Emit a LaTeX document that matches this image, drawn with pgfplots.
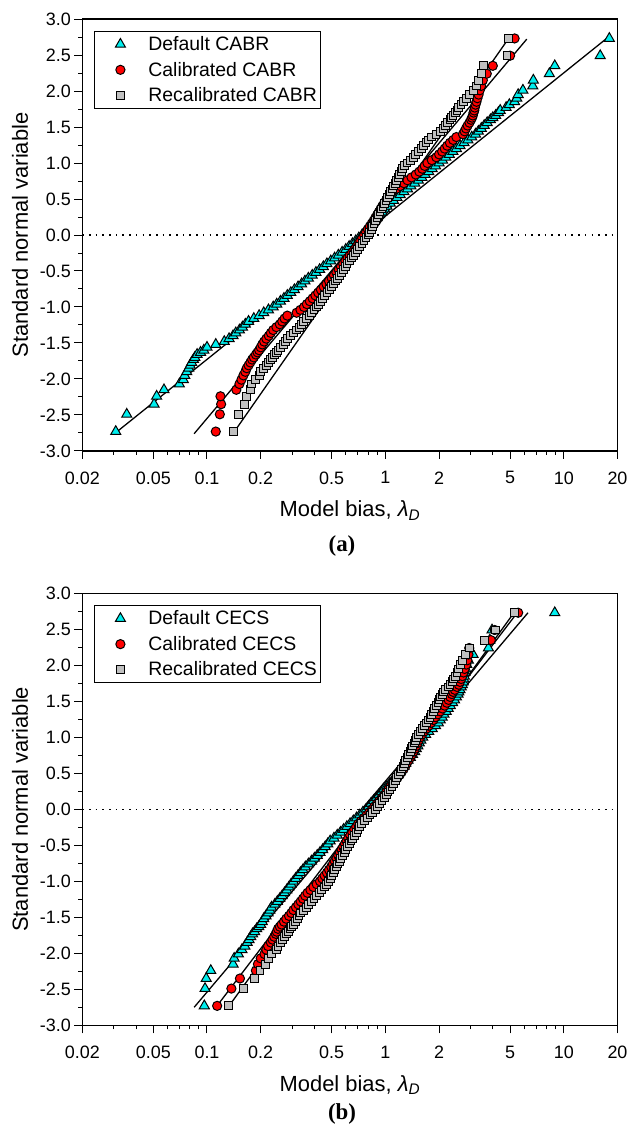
\documentclass[border=0pt]{standalone}
\usepackage{fontspec}
\setmainfont{Liberation Sans}
\newfontfamily\serifcap{Liberation Serif}
\usepackage{pgfplots}
\usepackage{pgfplotstable}
\pgfplotsset{compat=1.18}
\definecolor{cyanm}{RGB}{0,238,238}
\definecolor{redm}{RGB}{255,0,0}
\definecolor{graym}{RGB}{192,192,192}

% y = standard normal variable; d = default, c = calibrated, r = recalibrated (model bias)
\pgfplotstableread{
y d c r
-2.73 0.0308 0.112 0.1406
-2.49 0.0355 0.118 0.150
-2.35 0.0505 0.120 0.163
-2.24 0.0522 0.119 0.166
-2.15 0.0574 0.146 0.175
-2.07 0.0700 0.152 0.178
-2.01 0.0737 0.156 0.188
-1.95 0.0750 0.160 0.197
-1.90 0.0770 0.164 0.200
-1.85 0.0790 0.167 0.208
-1.81 0.0805 0.171 0.215
-1.77 0.0820 0.175 0.222
-1.73 0.0840 0.179 0.228
-1.70 0.0855 0.183 0.232
-1.66 0.0880 0.188 0.238
-1.63 0.0920 0.192 0.244
-1.60 0.0960 0.196 0.250
-1.56 0.1000 0.200 0.258
-1.52 0.1120 0.204 0.268
-1.48 0.1250 0.209 0.276
-1.44 0.1330 0.215 0.284
-1.40 0.1400 0.222 0.294
-1.36 0.1450 0.228 0.305
-1.32 0.1520 0.235 0.318
-1.28 0.1580 0.245 0.330
-1.24 0.1640 0.256 0.340
-1.20 0.1710 0.264 0.348
-1.16 0.183 0.272 0.362
-1.12 0.196 0.282 0.375
-1.08 0.208 0.318 0.385
-1.04 0.221 0.334 0.398
-1.00 0.235 0.350 0.410
-0.96 0.246 0.363 0.421
-0.92 0.258 0.377 0.433
-0.88 0.270 0.391 0.445
-0.84 0.282 0.405 0.457
-0.80 0.295 0.420 0.470
-0.76 0.309 0.435 0.484
-0.72 0.324 0.451 0.497
-0.68 0.339 0.467 0.511
-0.64 0.354 0.483 0.525
-0.60 0.370 0.500 0.540
-0.56 0.389 0.515 0.553
-0.52 0.408 0.531 0.567
-0.48 0.428 0.547 0.581
-0.44 0.449 0.563 0.595
-0.40 0.470 0.580 0.610
-0.36 0.494 0.597 0.627
-0.32 0.519 0.614 0.644
-0.28 0.545 0.632 0.662
-0.24 0.572 0.651 0.681
-0.20 0.600 0.670 0.700
-0.16 0.626 0.687 0.719
-0.12 0.654 0.705 0.739
-0.08 0.682 0.723 0.759
-0.04 0.710 0.741 0.779
0.00 0.740 0.760 0.800
0.04 0.765 0.779 0.816
0.08 0.790 0.798 0.832
0.12 0.816 0.818 0.848
0.16 0.843 0.839 0.864
0.20 0.870 0.860 0.880
0.24 0.899 0.879 0.897
0.28 0.928 0.899 0.915
0.32 0.958 0.919 0.933
0.36 0.989 0.939 0.951
0.40 1.020 0.960 0.970
0.44 1.065 0.983 0.989
0.48 1.110 1.007 1.009
0.52 1.160 1.031 1.029
0.56 1.210 1.055 1.049
0.60 1.270 1.090 1.070
0.64 1.330 1.150 1.091
0.68 1.390 1.210 1.113
0.72 1.460 1.270 1.135
0.76 1.530 1.330 1.157
0.80 1.600 1.400 1.180
0.84 1.670 1.480 1.200
0.88 1.750 1.550 1.230
0.92 1.830 1.610 1.250
0.96 1.910 1.660 1.280
1.00 2.000 1.720 1.320
1.04 2.090 1.820 1.380
1.08 2.180 1.930 1.430
1.12 2.280 2.000 1.480
1.16 2.390 2.080 1.540
1.20 2.500 2.150 1.600
1.24 2.620 2.220 1.640
1.28 2.760 2.300 1.690
1.32 2.900 2.400 1.750
1.36 3.050 2.500 1.820
1.40 3.200 2.720 1.920
1.44 3.320 2.780 2.030
1.48 3.450 2.830 2.110
1.52 3.580 2.890 2.170
1.56 3.720 2.960 2.230
1.60 3.880 3.020 2.300
1.63 4.000 3.060 2.340
1.66 4.150 3.090 2.390
1.70 4.300 3.120 2.460
1.73 4.400 3.150 2.520
1.77 4.750 3.170 2.560
1.81 4.950 3.200 2.650
1.85 5.300 3.240 2.730
1.90 5.450 3.280 2.850
1.95 5.550 3.330 2.950
2.01 5.900 3.380 3.110
2.07 6.700 3.440 3.250
2.15 6.750 3.520 3.320
2.24 8.300 3.700 3.470
2.35 8.900 4.000 3.550
2.49 16.00 5.000 4.800
2.73 18.00 5.300 4.900
}\tabA

\pgfplotstableread{
y d c r
-2.73 0.0966 0.114 0.1324
-2.49 0.0975 0.137 0.160
-2.35 0.0990 0.153 0.185
-2.24 0.1050 0.188 0.198
-2.15 0.1400 0.193 0.212
-2.07 0.1420 0.200 0.222
-2.01 0.1500 0.210 0.230
-1.95 0.1570 0.215 0.245
-1.90 0.1630 0.220 0.250
-1.85 0.1680 0.228 0.258
-1.81 0.1720 0.233 0.265
-1.77 0.1760 0.238 0.272
-1.73 0.1800 0.243 0.280
-1.70 0.1850 0.246 0.285
-1.66 0.1900 0.250 0.292
-1.63 0.1950 0.256 0.298
-1.60 0.2000 0.262 0.304
-1.56 0.2040 0.270 0.312
-1.52 0.2080 0.278 0.322
-1.48 0.2140 0.288 0.328
-1.44 0.2200 0.297 0.336
-1.40 0.2250 0.305 0.348
-1.36 0.2300 0.315 0.360
-1.32 0.2400 0.325 0.372
-1.28 0.2480 0.335 0.385
-1.24 0.2560 0.345 0.398
-1.20 0.2640 0.355 0.410
-1.16 0.2720 0.366 0.425
-1.12 0.2800 0.380 0.440
-1.08 0.2880 0.395 0.455
-1.04 0.2960 0.412 0.468
-1.00 0.3050 0.430 0.480
-0.96 0.314 0.443 0.490
-0.92 0.324 0.456 0.500
-0.88 0.334 0.470 0.510
-0.84 0.345 0.483 0.520
-0.80 0.356 0.497 0.530
-0.76 0.370 0.508 0.541
-0.72 0.385 0.520 0.552
-0.68 0.400 0.532 0.563
-0.64 0.415 0.544 0.575
-0.60 0.430 0.556 0.587
-0.56 0.445 0.568 0.600
-0.52 0.460 0.580 0.613
-0.48 0.475 0.593 0.627
-0.44 0.490 0.606 0.641
-0.40 0.515 0.619 0.655
-0.36 0.537 0.635 0.670
-0.32 0.560 0.652 0.686
-0.28 0.583 0.669 0.702
-0.24 0.608 0.686 0.718
-0.20 0.634 0.704 0.735
-0.16 0.661 0.730 0.762
-0.12 0.689 0.757 0.790
-0.08 0.718 0.784 0.819
-0.04 0.748 0.812 0.849
0.00 0.780 0.840 0.880
0.04 0.805 0.867 0.905
0.08 0.830 0.895 0.930
0.12 0.860 0.924 0.957
0.16 0.890 0.954 0.984
0.20 0.920 0.985 1.010
0.24 0.950 1.010 1.035
0.28 0.980 1.040 1.060
0.32 1.020 1.070 1.090
0.36 1.060 1.110 1.115
0.40 1.100 1.140 1.140
0.44 1.130 1.170 1.160
0.48 1.165 1.205 1.190
0.52 1.200 1.235 1.210
0.56 1.235 1.265 1.235
0.60 1.270 1.295 1.260
0.64 1.300 1.320 1.280
0.68 1.340 1.350 1.300
0.72 1.380 1.380 1.330
0.76 1.420 1.410 1.350
0.80 1.460 1.440 1.380
0.84 1.490 1.465 1.400
0.88 1.520 1.490 1.420
0.92 1.550 1.515 1.450
0.96 1.580 1.540 1.475
1.00 1.620 1.570 1.500
1.04 1.680 1.610 1.540
1.08 1.750 1.650 1.580
1.12 1.830 1.700 1.620
1.16 1.910 1.750 1.660
1.20 1.980 1.800 1.700
1.24 2.030 1.860 1.740
1.28 2.080 1.910 1.780
1.32 2.130 1.970 1.820
1.36 2.190 2.030 1.860
1.40 2.250 2.090 1.890
1.44 2.310 2.150 1.930
1.48 2.380 2.210 1.970
1.52 2.440 2.260 2.000
1.56 2.500 2.310 2.040
1.60 2.550 2.360 2.080
1.63 2.580 2.400 2.120
1.66 2.620 2.450 2.160
1.70 2.660 2.520 2.250
1.73 2.700 2.580 2.300
1.77 2.730 2.620 2.370
1.81 2.750 2.660 2.420
1.85 2.770 2.700 2.460
1.90 2.790 2.740 2.520
1.95 2.820 2.780 2.580
2.01 2.860 2.840 2.640
2.07 2.920 2.880 2.700
2.15 3.100 2.920 2.820
2.24 3.780 2.950 2.950
2.35 3.850 3.900 3.600
2.49 3.960 4.100 4.150
2.73 8.900 5.550 5.300
}\tabB

\pgfplotsset{
  legimg/.style={legend image code/.code={\path[draw=none,fill=none] (0bp,0bp) -- (50bp,0bp); \draw[mark repeat=2,mark phase=2,##1] plot coordinates {(0bp,0bp) (24bp,0bp) (50bp,0bp)};}},
  mD/.style={only marks, mark=triangle*, mark size=5.8bp, mark options={fill=cyanm, draw=black, line width=1bp}, legimg},
  mC/.style={only marks, mark=*, mark size=4.6bp, mark options={fill=redm, draw=black, line width=1bp}, legimg},
  mR/.style={only marks, mark=square*, mark size=3.9bp, mark options={fill=graym, draw=black, line width=1bp}, legimg},
  fitl/.style={black, line width=1.3bp, forget plot, no marks},
  zerol/.style={black, line width=1.4bp, dash pattern=on 1.6bp off 5.1bp, forget plot, no marks},
}

\begin{document}
\begin{tikzpicture}
\useasboundingbox (0,0) rectangle (633bp,-1133bp);
\begin{axis}[
    at={(82.3bp,-19bp)}, anchor=north west,
    scale only axis, width=535.2bp, height=432bp,
    xmode=log, xmin=0.02, xmax=20, ymin=-3, ymax=3,
    xtick={0.02,0.05,0.1,0.2,0.5,1,2,5,10,20},
    xticklabels={0.02,0.05,0.1,0.2,0.5,1,2,5,10,20},
    minor xtick={0.03,0.04,0.06,0.07,0.08,0.09,0.3,0.4,0.6,0.7,0.8,0.9,3,4,6,7,8,9},
    ytick={-3,-2.5,-2,-1.5,-1,-0.5,0,0.5,1,1.5,2,2.5,3},
    minor ytick={-2.75,-2.25,-1.75,-1.25,-0.75,-0.25,0.25,0.75,1.25,1.75,2.25,2.75},
    /pgf/number format/assume math mode=true,
    yticklabel style={/pgf/number format/.cd,fixed,fixed zerofill,precision=1},
    xticklabel style={yshift=-9bp},
    tick label style={font=\fontsize{18}{21}\selectfont},
    label style={font=\fontsize{22}{26}\selectfont},
    tick align=outside, tick pos=left,
    major tick length=8bp, minor tick length=4bp,
    every tick/.append style={black, line width=1bp},
    axis line style={line width=1.2bp},
    xlabel style={at={(axis description cs:0.5,-0.138)}, anchor=center},
    ylabel style={at={(axis description cs:-0.1164,0.5)}, anchor=center},
    xlabel={Model bias, \textit{λ}\textsubscript{\textit{D}}},
    ylabel={Standard normal variable},
    legend style={at={(0.0219,0.972)}, anchor=north west, draw=black, line width=0.8bp,
      font=\fontsize{19.5}{22}\selectfont, inner xsep=2bp, inner ysep=3bp, row sep=6bp},
    legend cell align=left,
]
\addplot[zerol] coordinates {(0.02,0) (20,0)};
\addplot[mD] table[x=d,y=y]{\tabA};
\addlegendentry{Default CABR}
\addplot[mC] table[x=c,y=y]{\tabA};
\addlegendentry{Calibrated CABR}
\addplot[mR] table[x=r,y=y]{\tabA};
\addlegendentry{Recalibrated CABR}
\addplot[fitl] coordinates {(0.031,-2.74) (18.0,2.76)};
\addplot[fitl] coordinates {(0.0847,-2.76) (6.2,2.72)};
\addplot[fitl] coordinates {(0.1406,-2.75) (5.0,2.76)};
\end{axis}
\node at (342bp,-546bp) {\serifcap\bfseries\fontsize{23}{26}\selectfont (a)};
\begin{axis}[
    at={(82.3bp,-593.3bp)}, anchor=north west,
    scale only axis, width=535.2bp, height=432bp,
    xmode=log, xmin=0.02, xmax=20, ymin=-3, ymax=3,
    xtick={0.02,0.05,0.1,0.2,0.5,1,2,5,10,20},
    xticklabels={0.02,0.05,0.1,0.2,0.5,1,2,5,10,20},
    minor xtick={0.03,0.04,0.06,0.07,0.08,0.09,0.3,0.4,0.6,0.7,0.8,0.9,3,4,6,7,8,9},
    ytick={-3,-2.5,-2,-1.5,-1,-0.5,0,0.5,1,1.5,2,2.5,3},
    minor ytick={-2.75,-2.25,-1.75,-1.25,-0.75,-0.25,0.25,0.75,1.25,1.75,2.25,2.75},
    /pgf/number format/assume math mode=true,
    yticklabel style={/pgf/number format/.cd,fixed,fixed zerofill,precision=1},
    xticklabel style={yshift=-9bp},
    tick label style={font=\fontsize{18}{21}\selectfont},
    label style={font=\fontsize{22}{26}\selectfont},
    tick align=outside, tick pos=left,
    major tick length=8bp, minor tick length=4bp,
    every tick/.append style={black, line width=1bp},
    axis line style={line width=1.2bp},
    xlabel style={at={(axis description cs:0.5,-0.138)}, anchor=center},
    ylabel style={at={(axis description cs:-0.1164,0.5)}, anchor=center},
    xlabel={Model bias, \textit{λ}\textsubscript{\textit{D}}},
    ylabel={Standard normal variable},
    legend style={at={(0.0219,0.972)}, anchor=north west, draw=black, line width=0.8bp,
      font=\fontsize{19.5}{22}\selectfont, inner xsep=2bp, inner ysep=3bp, row sep=6bp},
    legend cell align=left,
]
\addplot[zerol] coordinates {(0.02,0) (20,0)};
\addplot[mD] table[x=d,y=y]{\tabB};
\addlegendentry{Default CECS}
\addplot[mC] table[x=c,y=y]{\tabB};
\addlegendentry{Calibrated CECS}
\addplot[mR] table[x=r,y=y]{\tabB};
\addlegendentry{Recalibrated CECS}
\addplot[fitl] coordinates {(0.0847,-2.75) (6.3,2.73)};
\addplot[fitl] coordinates {(0.113,-2.74) (5.6,2.76)};
\addplot[fitl] coordinates {(0.133,-2.73) (5.4,2.77)};
\end{axis}
\node at (342bp,-1114bp) {\serifcap\bfseries\fontsize{23}{26}\selectfont (b)};
\end{tikzpicture}
\end{document}
